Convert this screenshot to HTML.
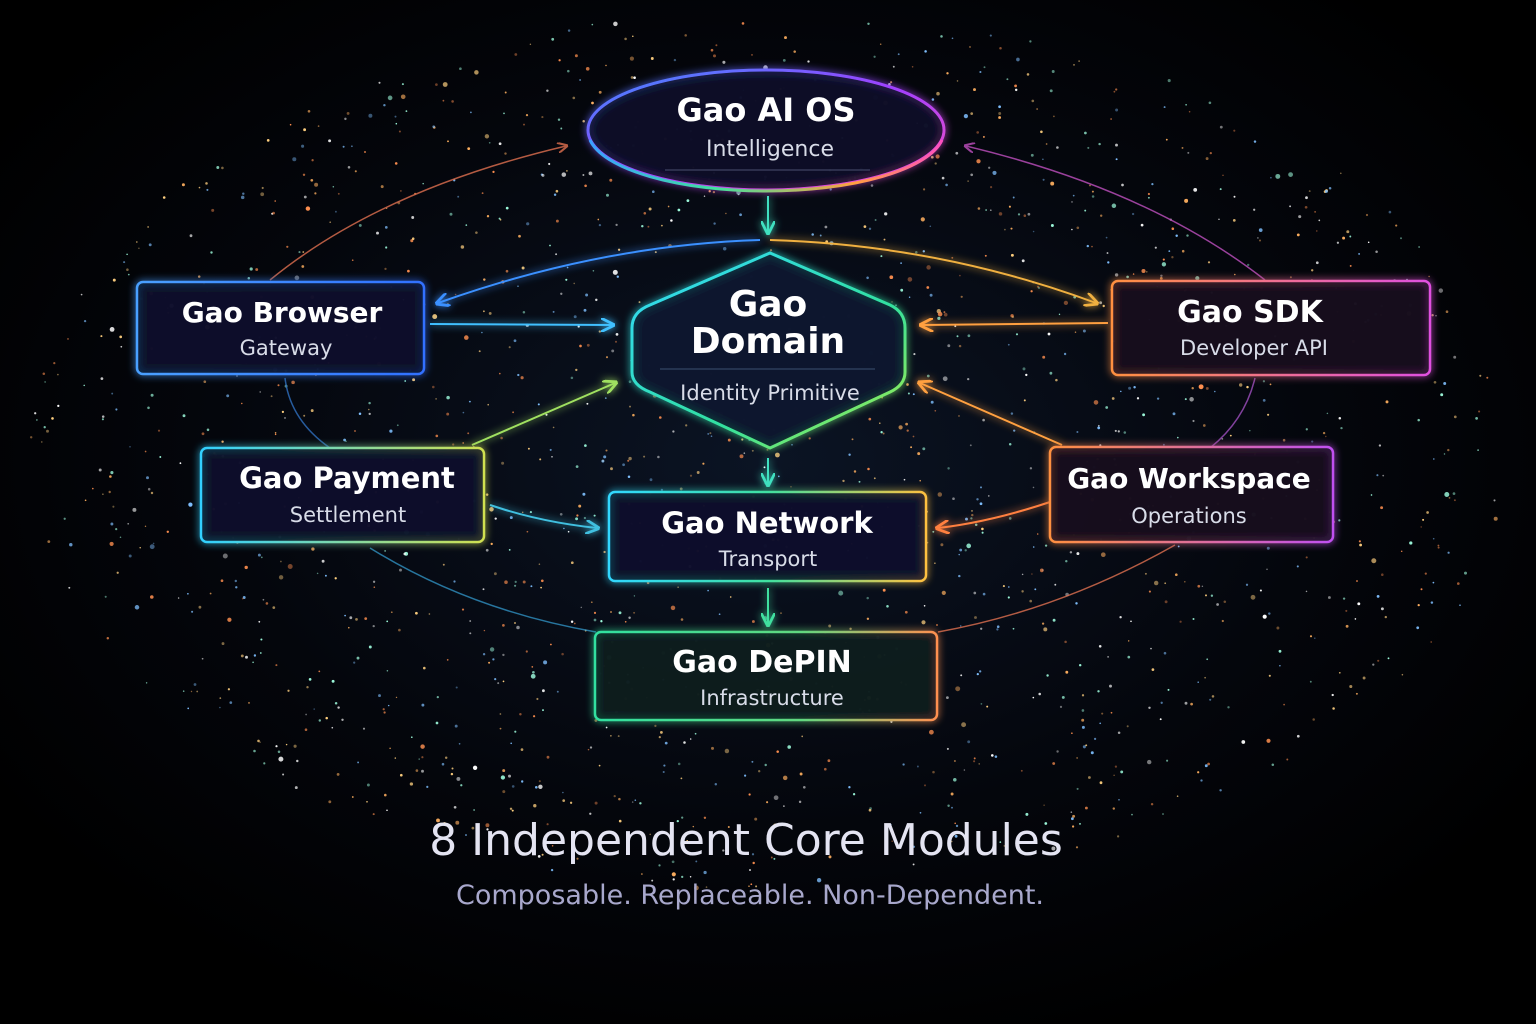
<!DOCTYPE html>
<html><head><meta charset="utf-8"><style>
html,body{margin:0;padding:0;background:#000;}
svg{display:block}
text{font-family:"DejaVu Sans","Liberation Sans",sans-serif;text-anchor:middle;fill:#fff}
.t{font-weight:600;font-size:30px}
.s{font-size:21px;fill:#d8dce8}
</style></head><body>
<svg id="sv" width="1536" height="1024" viewBox="0 0 1536 1024" xmlns="http://www.w3.org/2000/svg">
<defs>
<radialGradient id="bg" cx="50%" cy="45%" r="60%"><stop offset="0" stop-color="#0b1424"/><stop offset=".6" stop-color="#04060c"/><stop offset="1" stop-color="#000"/></radialGradient>
<linearGradient id="gEl" x1="0" y1="0" x2="1" y2="1"><stop offset="0" stop-color="#3a8bff"/><stop offset=".5" stop-color="#a040ff"/><stop offset="1" stop-color="#ff50c0"/></linearGradient>
<linearGradient id="gElB" x1="0" y1="0" x2="1" y2="0"><stop offset="0" stop-color="#3aa0ff"/><stop offset=".35" stop-color="#40e0a0"/><stop offset=".75" stop-color="#ffa040"/><stop offset="1" stop-color="#ff50c0"/></linearGradient>
<linearGradient id="gHex" x1="0" y1="0" x2="1" y2="1"><stop offset="0" stop-color="#30d8ff"/><stop offset=".6" stop-color="#30e0a0"/><stop offset="1" stop-color="#b0f040"/></linearGradient>
<linearGradient id="gBr" x1="0" y1="0" x2="1" y2="0"><stop offset="0" stop-color="#4aa0ff"/><stop offset="1" stop-color="#3070ff"/></linearGradient>
<linearGradient id="gPay" x1="0" y1="0" x2="1" y2="0"><stop offset="0" stop-color="#30d0ff"/><stop offset="1" stop-color="#d0e050"/></linearGradient>
<linearGradient id="gNet" x1="0" y1="0" x2="1" y2="0"><stop offset="0" stop-color="#30d8ff"/><stop offset=".5" stop-color="#40e0a0"/><stop offset="1" stop-color="#ffc040"/></linearGradient>
<linearGradient id="gDe" x1="0" y1="0" x2="1" y2="0"><stop offset="0" stop-color="#30e0a0"/><stop offset=".6" stop-color="#60d880"/><stop offset="1" stop-color="#ff9050"/></linearGradient>
<linearGradient id="gSdk" x1="0" y1="0" x2="1" y2="0"><stop offset="0" stop-color="#ff9040"/><stop offset="1" stop-color="#e050e0"/></linearGradient>
<linearGradient id="gWs" x1="0" y1="0" x2="1" y2="0"><stop offset="0" stop-color="#ff9040"/><stop offset="1" stop-color="#c050f0"/></linearGradient>
<filter id="glow" x="-20%" y="-40%" width="140%" height="180%"><feGaussianBlur stdDeviation="4" result="b"/><feMerge><feMergeNode in="b"/><feMergeNode in="SourceGraphic"/></feMerge></filter>
<marker id="ar" viewBox="0 0 10 10" refX="8" refY="5" markerWidth="7" markerHeight="7" orient="auto-start-reverse"><path d="M0,0 L10,5 L0,10" fill="none" stroke="context-stroke" stroke-width="2"/></marker>
</defs>
<rect width="1536" height="1024" fill="url(#bg)"/>
<g id="stars"></g>
<g fill="none" stroke-width="1.5" opacity=".8">
<path d="M270,280 Q380,190 566,146" stroke="#e07050" marker-end="url(#ar)"/>
<path d="M1265,280 Q1150,190 966,146" stroke="#c050c0" marker-end="url(#ar)"/>
<path d="M285,378 Q290,420 330,448" stroke="#3070c0"/>
<path d="M1255,378 Q1245,420 1210,448" stroke="#a050c0"/>
<path d="M370,548 Q470,610 596,632" stroke="#3090c0"/>
<path d="M1175,545 Q1060,610 938,632" stroke="#e07050"/>
</g>
<g fill="none" stroke-width="2" filter="url(#glow)">
<path d="M768,196 L768,232" stroke="#40e0c0" marker-end="url(#ar)"/>
<path d="M768,458 L768,484" stroke="#40e0c0" marker-end="url(#ar)"/>
<path d="M768,588 L768,624" stroke="#40e0a0" marker-end="url(#ar)"/>
<path d="M430,324 L612,325" stroke="#40c0ff" marker-end="url(#ar)"/>
<path d="M760,240 Q600,245 438,303" stroke="#3a90ff" marker-end="url(#ar)"/>
<path d="M770,240 Q940,245 1096,303" stroke="#f0b040" marker-end="url(#ar)"/>
<path d="M1108,323 L922,325" stroke="#ffa040" marker-end="url(#ar)"/>
<path d="M472,445 L615,383" stroke="#a0e060" marker-end="url(#ar)"/>
<path d="M1062,445 L920,383" stroke="#ffa040" marker-end="url(#ar)"/>
<path d="M490,505 Q540,522 597,528" stroke="#40c0e0" marker-end="url(#ar)"/>
<path d="M1050,502 Q990,522 938,528" stroke="#ff8040" marker-end="url(#ar)"/>
</g>
<ellipse cx="766" cy="130" rx="178" ry="60" fill="#0a1028" fill-opacity=".85" stroke="url(#gEl)" stroke-width="3" filter="url(#glow)"/>
<path d="M590,140 A178,60 0 0 0 942,140" fill="none" stroke="url(#gElB)" stroke-width="3"/>
<line x1="665" y1="170" x2="870" y2="170" stroke="#4a5070" stroke-width="1"/>
<text x="766" y="121" class="t" style="font-size:32px">Gao AI OS</text>
<text x="770" y="156" class="s" style="font-size:22px">Intelligence</text>
<path d="M770,253 L890,305 Q905,312 905,328 L905,372 Q905,385 890,392 L770,448 L650,392 Q632,385 632,372 L632,328 Q632,312 650,305 Z" fill="#0a1830" fill-opacity=".9" stroke="url(#gHex)" stroke-width="3" filter="url(#glow)"/>
<line x1="660" y1="369" x2="875" y2="369" stroke="#3a5070" stroke-width="1"/>
<text x="768" y="316" class="t" style="font-size:36px">Gao</text>
<text x="768" y="353" class="t" style="font-size:36px">Domain</text>
<text x="770" y="400" class="s" style="font-size:21px">Identity Primitive</text>
<g stroke-width="2.5" filter="url(#glow)" fill="#08122a" fill-opacity=".85">
<rect x="137" y="282" width="287" height="92" rx="6" stroke="url(#gBr)"/>
<rect x="1112" y="281" width="318" height="94" rx="6" stroke="url(#gSdk)" fill="#180e1e"/>
<rect x="201" y="448" width="283" height="94" rx="6" stroke="url(#gPay)"/>
<rect x="1050" y="447" width="283" height="95" rx="6" stroke="url(#gWs)" fill="#180e1e"/>
<rect x="609" y="492" width="317" height="89" rx="6" stroke="url(#gNet)"/>
<rect x="595" y="632" width="342" height="88" rx="6" stroke="url(#gDe)" fill="#081a1e"/>
</g>
<text x="282" y="322" class="t" style="font-size:28px">Gao Browser</text>
<text x="286" y="355" class="s">Gateway</text>
<text x="1250" y="322" class="t" style="font-size:30px">Gao SDK</text>
<text x="1254" y="355" class="s">Developer API</text>
<text x="347" y="488" class="t" style="font-size:29px">Gao Payment</text>
<text x="348" y="522" class="s">Settlement</text>
<text x="1189" y="488" class="t" style="font-size:28px">Gao Workspace</text>
<text x="1189" y="523" class="s">Operations</text>
<text x="767" y="533" class="t" style="font-size:29px">Gao Network</text>
<text x="768" y="566" class="s">Transport</text>
<text x="762" y="672" class="t" style="font-size:30px">Gao DePIN</text>
<text x="772" y="705" class="s">Infrastructure</text>
<text x="746" y="855" style="font-size:44px;fill:#e4e4f2">8 Independent Core Modules</text>
<text x="750" y="904" style="font-size:27px;fill:#a8a8cc">Composable. Replaceable. Non-Dependent.</text>
</svg>
<script>
(function(){var g=document.getElementById('stars');var s=7;function r(){s=(s*16807)%2147483647;return s/2147483647;}
var cols=['#ffffff','#ffd080','#ff9050','#80c0ff','#a0ffe0','#ffb060'];var h='';
for(var i=0;i<1800;i++){var a=r()*Math.PI*2,d=Math.sqrt(r());var x=768+Math.cos(a)*d*740,y=450+Math.sin(a)*d*440;
if(y<20||y>1000)continue;var rad=r()<0.88?0.7+r()*0.8:1.3+r()*1.2;var c=cols[Math.floor(r()*cols.length)];
h+='<circle cx="'+x.toFixed(1)+'" cy="'+y.toFixed(1)+'" r="'+rad.toFixed(2)+'" fill="'+c+'" opacity="'+(0.4+r()*0.6).toFixed(2)+'"/>';}
g.innerHTML=h;})();
</script>
</body></html>
